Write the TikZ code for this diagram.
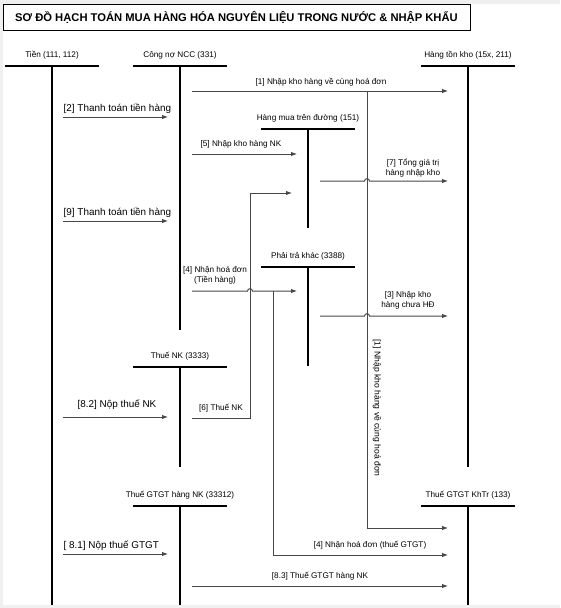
\documentclass[tikz,border=0pt]{standalone}
\usepackage{fontspec}
\setmainfont{Liberation Sans}
\usetikzlibrary{arrows.meta}

\begin{document}
\begin{tikzpicture}[x=1pt,y=-1pt,
  tk/.style={line width=2pt},
  ln/.style={black!72,line width=1pt},
  ar/.style={ln,-{Latex[length=6pt,width=4.5pt]}},
  lb/.style={font=\fontsize{8.2}{10}\selectfont,inner sep=0.5pt,align=center},
  big/.style={font=\fontsize{9.9}{11}\selectfont,inner sep=0.5pt}]
\fill[black!6](0,0)rectangle(560,608);\fill[white](3,4)rectangle(560,605);
\useasboundingbox(0,0)rectangle(560,608);
% title
\node[draw,line width=0.8pt,minimum width=467pt,minimum height=26pt,inner sep=0pt,
  font=\bfseries\fontsize{11.2}{12}\selectfont](title)at(236.5,17)
  {SƠ ĐỒ HẠCH TOÁN MUA HÀNG HÓA NGUYÊN LIỆU TRONG NƯỚC \& NHẬP KHẨU};
% T accounts
\foreach \n/\x/\y/\b/\t in {tien/52/66/605/{Tiền (111, 112)},
  ncc/180/66/330/{Công nợ NCC (331)},htk/468/66/467/{Hàng tồn kho (15x, 211)},
  hmd/308/129/228/{Hàng mua trên đường (151)},ptk/308/267/366/{Phải trả khác (3388)},
  tnk/180/367/467/{Thuế NK (3333)},gtnk/180/506/605/{Thuế GTGT hàng NK (33312)},
  gtkt/468/506/605/{Thuế GTGT KhTr (133)}}{
  \draw[tk](\x-47,\y)--(\x+47,\y);\draw[tk](\x,\y)--(\x,\b);
  \node[lb](\n)at(\x,\y-11){\t};}
% payments
\foreach \n/\y/\t in {p2/117/{[2] Thanh toán tiền hàng},p9/221/{[9] Thanh toán tiền hàng},
  p81/554/{[ 8.1] Nộp thuế GTGT}}{
  \coordinate(\n s)at(63,\y);\coordinate(\n e)at(168,\y);
  \draw[ar](\n s)--(\n e);\node[big,above right,yshift=3pt](\n)at(\n s){\t};}
\coordinate(p82s)at(63,417);\coordinate(p82e)at(168,417);
\draw[ar](p82s)--(p82e);\node[big](p82)at(117,405){[8.2] Nộp thuế NK};
% [1]
\coordinate(a1s)at(192,91);\coordinate(a1e)at(448,91);\coordinate(a1b)at(367,91);
\coordinate(a1c)at(367,528);\coordinate(a1d)at(448,528);
\draw[ar](a1s)--(a1e);\node[lb](a1)at(321,82){[1] Nhập kho hàng về cùng hoá đơn};
\draw[ar](a1b)--(a1c)--(a1d);
\node[lb,rotate=-90,font=\fontsize{8.6}{10}\selectfont](a1v)at(377,408){[1] Nhập kho hàng về cùng hoá đơn};
% [5]
\coordinate(a5s)at(192,154);\coordinate(a5e)at(297,154);
\draw[ar](a5s)--(a5e);\node[lb](a5)at(241,144){[5] Nhập kho hàng NK};
% [7]
\coordinate(a7s)at(320,181);\coordinate(a7e)at(448,181);
\draw[ar](a7s)--(364.5,181)..controls(364.5,178)and(369.5,178)..(369.5,181)--(a7e);
\node[lb](a7)at(413,168){[7] Tổng giá trị\\hàng nhập kho};
% [6]
\coordinate(a6s)at(192,418);\coordinate(a6e)at(292,193);
\draw[ar](a6s)-|(250,193)--(a6e);\node[lb](a6)at(221,408){[6] Thuế NK};
% [4]
\coordinate(a4s)at(192,291);\coordinate(a4e)at(297,291);\coordinate(a4b)at(273,291);
\coordinate(a4d)at(448,555);
\draw[ar](a4s)--(247.5,291)..controls(247.5,288)and(252.5,288)..(252.5,291)--(a4e);
\node[lb](a4)at(215,275){[4] Nhận hoá đơn\\(Tiền hàng)};
\draw[ar](a4b)|-(a4d);\node[lb](a4g)at(370,545){[4] Nhận hoá đơn (thuế GTGT)};
% [3]
\coordinate(a3s)at(320,316);\coordinate(a3e)at(448,316);
\draw[ar](a3s)--(364.5,316)..controls(364.5,313)and(369.5,313)..(369.5,316)--(a3e);
\node[lb](a3)at(408,300){[3] Nhập kho\\hàng chưa HĐ};
% [8.3]
\coordinate(a83s)at(192,586);\coordinate(a83e)at(448,586);
\draw[ar](a83s)--(a83e);\node[lb](a83)at(320,576){[8.3] Thuế GTGT hàng NK};
\end{tikzpicture}
\end{document}
